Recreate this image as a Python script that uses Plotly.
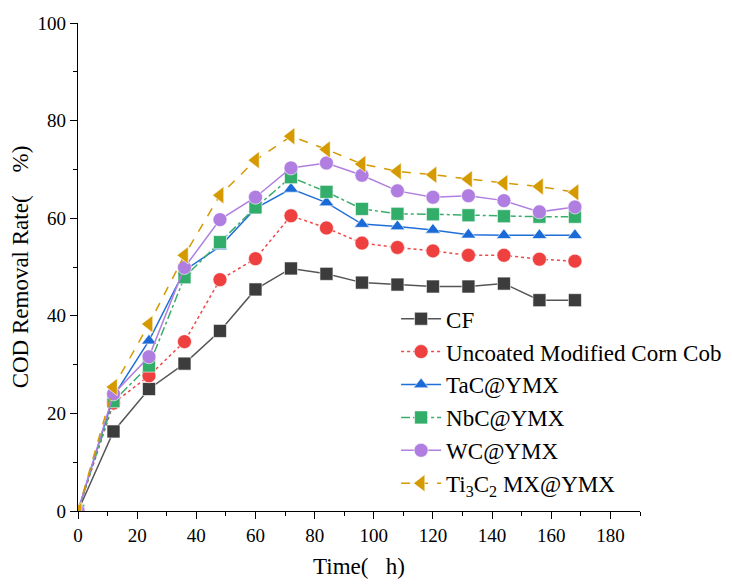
import plotly.graph_objects as go

time_h = [0, 12, 24, 36, 48, 60, 72, 84, 96, 108, 120, 132, 144, 156, 168]
cf = [0, 16.3, 25.0, 30.2, 36.9, 45.4, 49.7, 48.6, 46.8, 46.4, 46.0, 46.0, 46.6, 43.2, 43.2]
uncoated = [0, 22.1, 27.7, 34.7, 47.4, 51.7, 60.5, 58.0, 54.9, 54.0, 53.3, 52.4, 52.4, 51.6, 51.2]
tac = [0, 23.5, 34.9, 49.3, 54.2, 62.0, 66.0, 63.2, 58.8, 58.3, 57.6, 56.6, 56.5, 56.5, 56.5]
nbc = [0, 22.5, 29.8, 47.9, 55.1, 62.2, 68.4, 65.4, 61.9, 60.9, 60.8, 60.6, 60.4, 60.3, 60.3]
wc = [0, 24.0, 31.6, 49.9, 59.7, 64.3, 70.3, 71.3, 68.8, 65.6, 64.3, 64.6, 63.6, 61.3, 62.3]
ti3c2 = [0, 25.4, 38.3, 52.4, 64.7, 71.9, 76.8, 74.1, 71.1, 69.6, 68.9, 68.0, 67.2, 66.5, 65.3]

names = ["CF", "Uncoated Modified Corn Cob", "TaC@YMX", "NbC@YMX", "WC@YMX",
         "Ti<sub>3</sub>C<sub>2</sub> MX@YMX"]
series = [cf, uncoated, tac, nbc, wc, ti3c2]
line_colors = ["#555555", "#f04848", "#1f6fd8", "#3aad6c", "#b07fe0", "#d49a00"]
marker_colors = ["#3c3c3c", "#ef4040", "#1a6ad8", "#33ad6a", "#b07ee0", "#d49a00"]
dashes = ["solid", "dot", "solid", "dashdot", "solid", "dash"]
symbols = ["square", "circle", "triangle-up", "square", "circle", "triangle-left"]
sizes = [13, 14, 13, 13, 14, 15]

fig = go.Figure()
for n, y, lc, mc, d, s, sz in zip(names, series, line_colors, marker_colors, dashes, symbols, sizes):
    fig.add_trace(go.Scatter(
        x=time_h, y=y, name=n, mode="lines+markers",
        line=dict(color=lc, width=1.5, dash=d),
        marker=dict(symbol=s, size=sz, color=mc,
                    line=dict(color="rgba(255,255,255,0.6)", width=1)),
    ))

font = "Liberation Serif"
axis_common = dict(
    showgrid=False, zeroline=False, showline=True, linecolor="black", linewidth=1.2,
    ticks="outside", ticklen=7, tickwidth=1.2, tickcolor="black", automargin=False,
    tickfont=dict(family=font, size=19, color="black"),
    minor=dict(ticks="outside", ticklen=4, tickwidth=1.2, tickcolor="black"),
)
fig.update_xaxes(range=[0, 190], dtick=20, tick0=0, minor_dtick=10,
                 title=dict(text="Time(   h)", font=dict(family=font, size=23, color="black"), standoff=12),
                 **axis_common)
fig.update_yaxes(range=[0, 100], dtick=20, tick0=0, minor_dtick=10,
                 title=dict(text="COD Removal Rate(    %)", font=dict(family=font, size=23, color="black"), standoff=6),
                 **axis_common)

fig.update_layout(
    width=732, height=584,
    margin=dict(l=70, r=100, t=15, b=81),
    paper_bgcolor="white", plot_bgcolor="white",
    font=dict(family=font, color="black"),
    legend=dict(x=0.566, y=0.438, xanchor="left", yanchor="top",
                font=dict(family=font, size=23, color="black"),
                bgcolor="rgba(0,0,0,0)", tracegroupgap=0, itemwidth=40),
    showlegend=True,
)

fig.write_html("out.html")
